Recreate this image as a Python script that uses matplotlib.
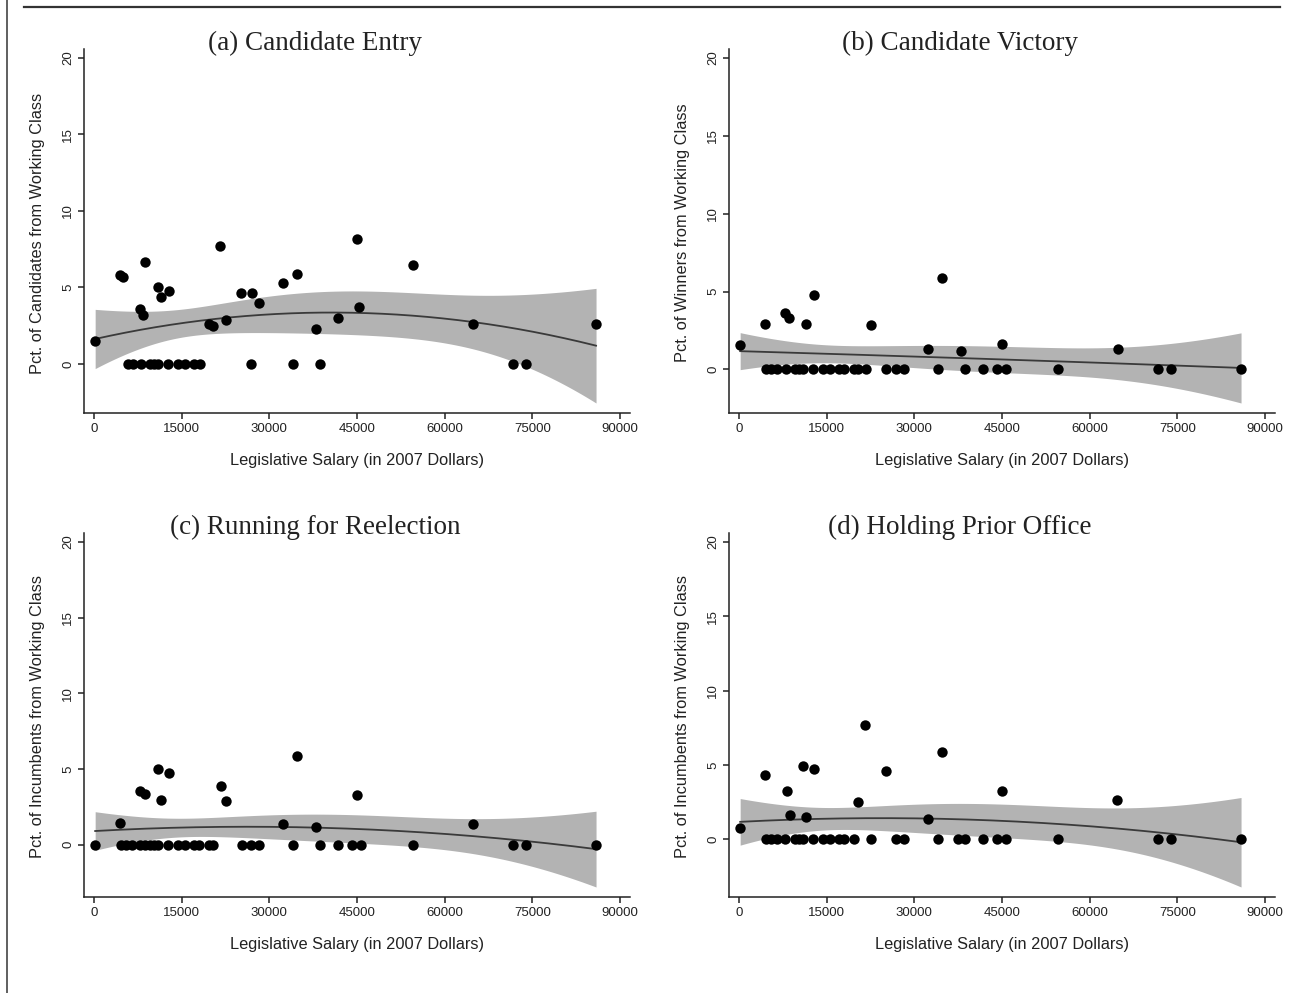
import numpy as np
import matplotlib
matplotlib.use("Agg")
import matplotlib.pyplot as plt
from matplotlib.lines import Line2D

# ---------------- data (salary in thousands of 2007 dollars, pct) ----------------
a_salary = [0.2, 4.5, 4.9, 8.8, 11.0, 12.8, 11.4, 7.9, 8.4, 21.6, 19.7, 20.4, 22.5, 25.2, 27.1,
            28.2, 32.4, 34.7, 38.0, 41.7, 45.0, 45.4, 54.6, 64.8, 85.9,
            5.9, 6.6, 8.0, 9.5, 10.2, 10.9, 12.6, 14.4, 15.6, 17.1, 18.1, 26.8, 34.1, 38.6, 71.7, 73.9]
a_pct = [1.5, 5.8, 5.7, 6.65, 5.0, 4.77, 4.4, 3.57, 3.22, 7.7, 2.63, 2.5, 2.85, 4.64, 4.64,
         4.0, 5.3, 5.9, 2.29, 3.03, 8.19, 3.7, 6.45, 2.6, 2.62,
         0, 0, 0, 0, 0, 0, 0, 0, 0, 0, 0, 0, 0, 0, 0, 0]

b_salary = [0.2, 4.5, 7.9, 8.5, 12.8, 11.4, 22.5, 34.7, 32.4, 38.0, 45.0, 64.8,
            4.6, 5.5, 6.5, 8.0, 9.5, 10.2, 10.9, 12.6, 14.4, 15.6, 17.1, 18.0, 19.7, 20.4,
            21.7, 25.2, 26.8, 28.2, 34.1, 38.6, 41.7, 44.1, 45.6, 54.6, 71.7, 73.9, 85.9]
b_pct = [1.55, 2.94, 3.6, 3.3, 4.77, 2.94, 2.88, 5.88, 1.34, 1.17, 1.66, 1.34,
         0, 0, 0, 0, 0, 0, 0, 0, 0, 0, 0, 0, 0, 0,
         0, 0, 0, 0, 0, 0, 0, 0, 0, 0, 0, 0, 0]

c_salary = [4.5, 7.9, 8.8, 11.0, 12.8, 11.4, 21.7, 22.5, 32.4, 34.7, 38.0, 45.0, 64.8,
            0.2, 4.6, 5.5, 6.5, 7.9, 8.7, 9.5, 10.2, 10.9, 12.6, 14.4, 15.6, 17.1, 18.0,
            19.7, 20.4, 25.3, 26.8, 28.2, 34.1, 38.6, 41.7, 44.1, 45.6, 54.6, 71.7, 73.9, 85.9]
c_pct = [1.45, 3.57, 3.35, 5.0, 4.75, 2.96, 3.86, 2.88, 1.35, 5.88, 1.18, 3.28, 1.35,
         0, 0, 0, 0, 0, 0, 0, 0, 0, 0, 0, 0, 0, 0,
         0, 0, 0, 0, 0, 0, 0, 0, 0, 0, 0, 0, 0, 0]

d_salary = [0.2, 4.5, 8.2, 8.8, 11.0, 12.8, 11.4, 20.3, 21.6, 25.2, 32.4, 34.7, 45.0, 64.7,
            4.6, 5.5, 6.5, 7.9, 9.5, 10.2, 10.9, 12.6, 14.4, 15.6, 17.1, 18.0, 19.7, 22.5,
            26.8, 28.2, 34.1, 37.4, 38.6, 41.7, 44.1, 45.6, 54.6, 71.7, 73.9, 85.9]
d_pct = [0.75, 4.31, 3.22, 1.65, 4.95, 4.73, 1.47, 2.47, 7.7, 4.6, 1.33, 5.85, 3.27, 2.62,
         0, 0, 0, 0, 0, 0, 0, 0, 0, 0, 0, 0, 0, 0,
         0, 0, 0, 0, 0, 0, 0, 0, 0, 0, 0, 0]

titles = ["(a) Candidate Entry", "(b) Candidate Victory",
          "(c) Running for Reelection", "(d) Holding Prior Office"]
ylabels = ["Pct. of Candidates from Working Class", "Pct. of Winners from Working Class",
           "Pct. of Incumbents from Working Class", "Pct. of Incumbents from Working Class"]
xlabel = "Legislative Salary (in 2007 Dollars)"
xticks = [0, 15000, 30000, 45000, 60000, 75000, 90000]
yticks = [0, 5, 10, 15, 20]

panels = [(a_salary, a_pct), (b_salary, b_pct), (c_salary, c_pct), (d_salary, d_pct)]

# ---------------- figure ----------------
W, H = 1292, 993
fig = plt.figure(figsize=(W / 100, H / 100), dpi=100)
fig.patch.set_facecolor("white")

# page border fragments
fig.add_artist(Line2D([7 / W, 7 / W], [0, 1], color="#444444", lw=1.2, transform=fig.transFigure))
fig.add_artist(Line2D([24 / W, 1280 / W], [1 - 7 / H, 1 - 7 / H], color="#333333", lw=1.6,
                      transform=fig.transFigure))

# axes boxes in pixel coordinates: (left, top, right, bottom)
boxes = [(84, 49, 630, 413), (729, 49, 1275, 413), (84, 533, 630, 897), (729, 533, 1275, 897)]

t_crit = 2.02  # approx 95% t critical value for ~40 obs
SANS = "Liberation Sans"
TXT = "#222222"


def qfit(x, y):
    x = np.asarray(x, float)
    y = np.asarray(y, float)
    X = np.column_stack([np.ones_like(x), x, x ** 2])
    beta, *_ = np.linalg.lstsq(X, y, rcond=None)
    resid = y - X @ beta
    n, p = X.shape
    s2 = resid @ resid / (n - p)
    cov = s2 * np.linalg.inv(X.T @ X)
    xs = np.linspace(x.min(), x.max(), 200)
    Xs = np.column_stack([np.ones_like(xs), xs, xs ** 2])
    fit = Xs @ beta
    se = np.sqrt(np.einsum("ij,jk,ik->i", Xs, cov, Xs))
    return xs, fit, fit - t_crit * se, fit + t_crit * se


for i, ((sx, py), box) in enumerate(zip(panels, boxes)):
    l, t, r, b = box
    ax = fig.add_axes([l / W, 1 - b / H, (r - l) / W, (b - t) / H])
    xd = np.asarray(sx) * 1000.0
    yd = np.asarray(py)
    xs, fit, lo, hi = qfit(xd, yd)
    ax.fill_between(xs, lo, hi, color="#b3b3b3", lw=0, zorder=1)
    ax.plot(xs, fit, color="#3a3a3a", lw=1.3, zorder=2)
    ax.scatter(xd, yd, s=56, color="black", zorder=3, linewidths=0)

    # Stata-like plot region margins
    span_x = (r - l) - 20
    ax.set_xlim(-10 / span_x * 90000, 90000 + 10 / span_x * 90000)
    ylo = min(lo.min(), 0)
    yhi = 20
    span_y = (b - t) - 19
    ax.set_ylim(ylo - 10 * (yhi - ylo) / span_y, yhi + 9 * (yhi - ylo) / span_y)

    ax.set_xticks(xticks)
    ax.set_xticklabels([str(v) for v in xticks])
    ax.set_yticks(yticks)
    ax.set_yticklabels([str(v) for v in yticks], rotation=90, va="center")
    for s in ["top", "right"]:
        ax.spines[s].set_visible(False)
    for s in ["left", "bottom"]:
        ax.spines[s].set_linewidth(1.1)
        ax.spines[s].set_color(TXT)
    ax.tick_params(direction="out", length=4.5, width=1.1, colors=TXT,
                   labelsize=9.5, pad=2.5)
    for lab in ax.get_xticklabels() + ax.get_yticklabels():
        lab.set_family(SANS)
    ax.set_facecolor("white")

    # texts
    cx = (l + r) / 2
    fig.text((cx - 42) / W, 1 - (t - 6) / H, titles[i], ha="center", va="center",
             family="Liberation Serif", fontsize=19.5, color=TXT)
    fig.text(cx / W, 1 - (b + 48) / H, xlabel, ha="center", va="center",
             family=SANS, fontsize=11.8, color=TXT)
    fig.text((l - 46) / W, 1 - ((t + b) / 2 + 2) / H, ylabels[i], ha="center", va="center",
             rotation=90, family=SANS, fontsize=11.8, color=TXT)

fig.savefig("out.png", dpi=100)
